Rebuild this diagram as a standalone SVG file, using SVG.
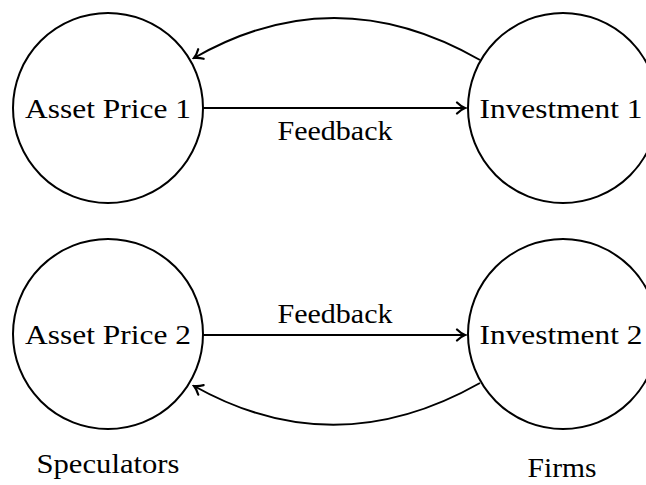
<svg xmlns="http://www.w3.org/2000/svg" width="646" height="485" viewBox="0 0 646 485">
<style>
.node circle{fill:#fff;stroke:#000;stroke-width:2}
text{font-family:"Liberation Serif","Times New Roman","DejaVu Serif",serif;font-size:28px;fill:#000;text-anchor:middle}
.edge{fill:none;stroke:#000;stroke-width:2;marker-end:url(#arr)}
</style>
<defs>
<marker id="arr" viewBox="-10 -7 12 14" markerWidth="12" markerHeight="14" refX="0" refY="0" orient="auto" markerUnits="userSpaceOnUse">
<path d="M-8,-5.5 C-5,-2.5 -2,-0.8 0,0 C-2,0.8 -5,2.5 -8,5.5" fill="none" stroke="#000" stroke-width="2.2" stroke-linecap="round"/>
</marker>
</defs>
<rect width="646" height="485" fill="#fff"/>
<g id="connectors">
<path class="edge" d="M203,108 L465,108"/>
<path class="edge" d="M480,60 Q335,-23 194,58"/>
<path class="edge" d="M203,335 L465,335"/>
<path class="edge" d="M480,383 Q335,465 194,386"/>
</g>
<g id="asset1" class="node"><circle cx="108" cy="108" r="95"/><text x="108" y="118" textLength="166" lengthAdjust="spacingAndGlyphs">Asset Price 1</text></g>
<g id="invest1" class="node"><circle cx="563" cy="108" r="95"/><text x="561" y="118" textLength="163" lengthAdjust="spacingAndGlyphs">Investment 1</text></g>
<g id="asset2" class="node"><circle cx="108" cy="334" r="95"/><text x="108" y="344" textLength="166" lengthAdjust="spacingAndGlyphs">Asset Price 2</text></g>
<g id="invest2" class="node"><circle cx="563" cy="334" r="95"/><text x="561" y="344" textLength="163" lengthAdjust="spacingAndGlyphs">Investment 2</text></g>
<g id="labels">
<text x="335" y="140" textLength="115" lengthAdjust="spacingAndGlyphs">Feedback</text>
<text x="335" y="323" textLength="115" lengthAdjust="spacingAndGlyphs">Feedback</text>
<text x="108" y="473" textLength="143" lengthAdjust="spacingAndGlyphs">Speculators</text>
<text x="562" y="477" textLength="69" lengthAdjust="spacingAndGlyphs">Firms</text>
</g>
</svg>
